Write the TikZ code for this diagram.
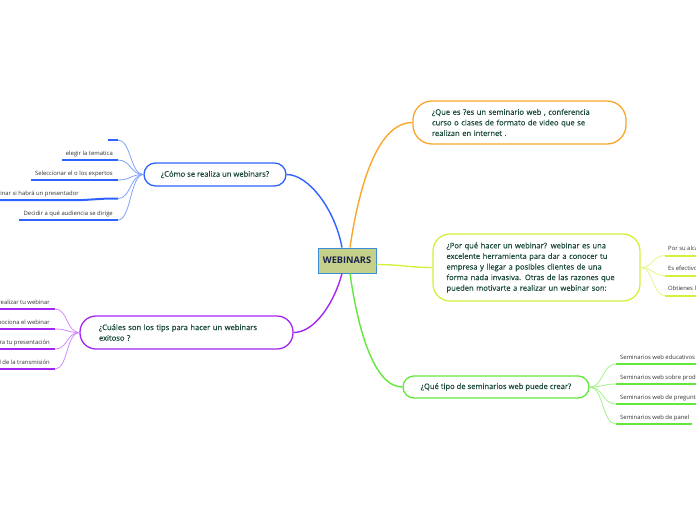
\documentclass[tikz,border=0pt]{standalone}
\usepackage{fontspec}
\setmainfont{Open Sans}
\newfontfamily\boxfont{Open Sans}[FakeBold=0.5]
\usetikzlibrary{calc}
\definecolor{txt}{HTML}{1B4A3C}
\definecolor{corg}{HTML}{F9A62B}
\definecolor{clime}{HTML}{D4F03C}
\definecolor{clitelime}{HTML}{E4F58A}
\definecolor{cgreen}{HTML}{62E83A}
\definecolor{clitegreen}{HTML}{A4F08A}
\definecolor{cblue}{HTML}{2F62FF}
\definecolor{cliteblue}{HTML}{7FA2FF}
\definecolor{cpurp}{HTML}{A326F2}
\definecolor{clitepurp}{HTML}{CF8CFF}
\definecolor{cbord}{HTML}{3B8ED6}
\definecolor{cfill}{HTML}{C5D08A}
\definecolor{ctext}{HTML}{333333}
\definecolor{cnavy}{HTML}{1A2350}
\tikzset{
  mainbox/.style={draw, line width=1.3pt, fill=white, text=txt, inner sep=0pt,
    font=\boxfont\fontsize{7.6}{10.6}\selectfont},
  central/.style={draw=cbord, fill=cfill, line width=1pt, minimum width=58pt,
    minimum height=25pt, inner sep=0pt, text=cnavy,
    font=\fontsize{9.2}{10}\selectfont\bfseries},
  mainline/.style={line width=1.4pt},
  subline/.style={line width=0.8pt},
  uline/.style={line width=2pt},
  leaf/.style={text=ctext, inner sep=0pt, font=\fontsize{5.9}{7}\selectfont},
}
\begin{document}
\begin{tikzpicture}[x=1pt,y=-1pt]
\useasboundingbox (0,0) rectangle (696,520);
\clip (0,0) rectangle (696,520);

% central
\node[central] (c) at (347,260.5) {WEBINARS};

% main nodes
\node[mainbox, draw=corg, minimum width=213pt, minimum height=43pt, text width=175pt,
  inner xsep=19pt, align=left, rounded corners=19pt] (o) at (519.5,122.5)
  {¿Que es ?es un seminario web , conferencia\\curso o clases de formato de video que se\\realizan en internet .};
\node[mainbox, draw=clime, minimum width=207pt, minimum height=67pt, text width=180pt,
  inner xsep=13.5pt, align=left, rounded corners=17pt] (l) at (536.5,267.5)
  {¿Por qué hacer un webinar? webinar es una\\excelente herramienta para dar a conocer tu\\empresa y llegar a posibles clientes de una\\forma nada invasiva. Otras de las razones que\\pueden motivarte a realizar un webinar son:};
\node[mainbox, draw=cgreen, minimum width=186pt, minimum height=22pt,
  rounded corners=11pt] (g) at (496,387) {¿Qué tipo de seminarios web puede crear?};
\node[mainbox, draw=cblue, minimum width=142pt, minimum height=23pt,
  rounded corners=11.5pt] (b) at (215,174.5) {¿Cómo se realiza un webinars?};
\node[mainbox, draw=cpurp, minimum width=213pt, minimum height=33pt, text width=175pt,
  inner xsep=19pt, align=left, rounded corners=16pt] (p) at (186.5,332.5)
  {¿Cuáles son los tips para hacer un webinars\\exitoso ?};

% main connectors
\draw[mainline, corg] ([xshift=3pt]c.north) .. controls +(10,-68) and +(-33,0) .. (o.west);
\draw[mainline, cblue] ([xshift=-5pt]c.north) .. controls +(-7,-38) and +(22,0) .. (b.east);
\draw[mainline, cpurp] ([xshift=-5pt]c.south) .. controls +(-7,27) and +(22,0) .. (p.east);
\draw[mainline, cgreen] ([xshift=3pt]c.south) .. controls +(8,57) and +(-28,0) .. (g.west);
\draw[mainline, clime] ([yshift=-4pt]c.east) .. controls +(24,0) and +(-23,0) .. (l.west);

% blue children
\coordinate (b1) at (118,140);
\coordinate (b2) at (118,160);
\coordinate (b3) at (118,180);
\coordinate (b4) at (118,198.5);
\coordinate (b5) at (118,220);
\node[leaf, anchor=base east] (b2t) at (113,155.5) {elegir la tematica};
\node[leaf, anchor=base east] (b3t) at (113,175.5) {Seleccionar el o los expertos};
\node[leaf, anchor=base east] (b4t) at (79,195) {Determinar si habrá un presentador};
\node[leaf, anchor=base east] (b5t) at (113,215.5) {Decidir a qué audiencia se dirige};
\foreach \k in {b1,b2,b3,b4,b5}
  \draw[subline, cliteblue] (b.west) .. controls +(-13,0) and +(13,0) .. (\k);
\draw[uline, cblue] (b1) -- +(-10,0);
\draw[uline, cblue] (b2) -- ([xshift=-4pt]b2t.west |- b2);
\draw[uline, cblue] (b3) -- ([xshift=-4pt]b3t.west |- b3);
\draw[uline, cblue] (b4) -- +(-10,0) .. controls +(-12,0) and +(12,0) .. (83,200) -- (0,200);
\draw[uline, cblue] (b5) -- ([xshift=-4pt]b5t.west |- b5);

% purple children
\coordinate (p1) at (55,309);
\coordinate (p2) at (55,329);
\coordinate (p3) at (55,349);
\coordinate (p4) at (55,369);
\node[leaf, anchor=base east] (p1t) at (50,304) {Elige cuándo realizar tu webinar};
\node[leaf, anchor=base east] (p2t) at (50,324) {Promociona el webinar};
\node[leaf, anchor=base east] (p3t) at (50,344) {Prepara tu presentación};
\node[leaf, anchor=base east] (p4t) at (50,364) {Cuida la calidad de la transmisión};
\foreach \k in {p1,p2,p3,p4}{
  \draw[subline, clitepurp] (p.west) .. controls +(-13,0) and +(13,0) .. (\k);
  \draw[uline, cpurp] (\k) -- (\k -| 0,0);
}

% lime children
\coordinate (l1) at (665,255.5);
\coordinate (l2) at (665,275.5);
\coordinate (l3) at (665,295.5);
\node[leaf, anchor=base west] (l1t) at (668,250.5) {Por su alcance};
\node[leaf, anchor=base west] (l2t) at (668,270.5) {Es efectivo};
\node[leaf, anchor=base west] (l3t) at (668,290.5) {Obtienes leads};
\foreach \k in {l1,l2,l3}{
  \draw[subline, clitelime] (l.east) .. controls +(13,0) and +(-13,0) .. (\k);
  \draw[uline, clime] (\k) -- (\k -| 700,0);
}

% green children
\coordinate (g1) at (616,364);
\coordinate (g2) at (616,384);
\coordinate (g3) at (616,404);
\coordinate (g4) at (616,424);
\node[leaf, anchor=base west] (g1t) at (620,359) {Seminarios web educativos};
\node[leaf, anchor=base west] (g2t) at (620,379) {Seminarios web sobre productos};
\node[leaf, anchor=base west] (g3t) at (620,399) {Seminarios web de preguntas y respuestas};
\node[leaf, anchor=base west] (g4t) at (620,419) {Seminarios web de panel};
\foreach \k in {g1,g2,g3,g4}{
  \draw[subline, clitegreen] (g.east) .. controls +(14,0) and +(-14,0) .. (\k);
}
\draw[uline, cgreen] (g1) -- (g1 -| 700,0);
\draw[uline, cgreen] (g2) -- (g2 -| 700,0);
\draw[uline, cgreen] (g3) -- (g3 -| 700,0);
\draw[uline, cgreen] (g4) -- ([xshift=3pt]g4t.east |- g4);
\end{tikzpicture}
\end{document}
